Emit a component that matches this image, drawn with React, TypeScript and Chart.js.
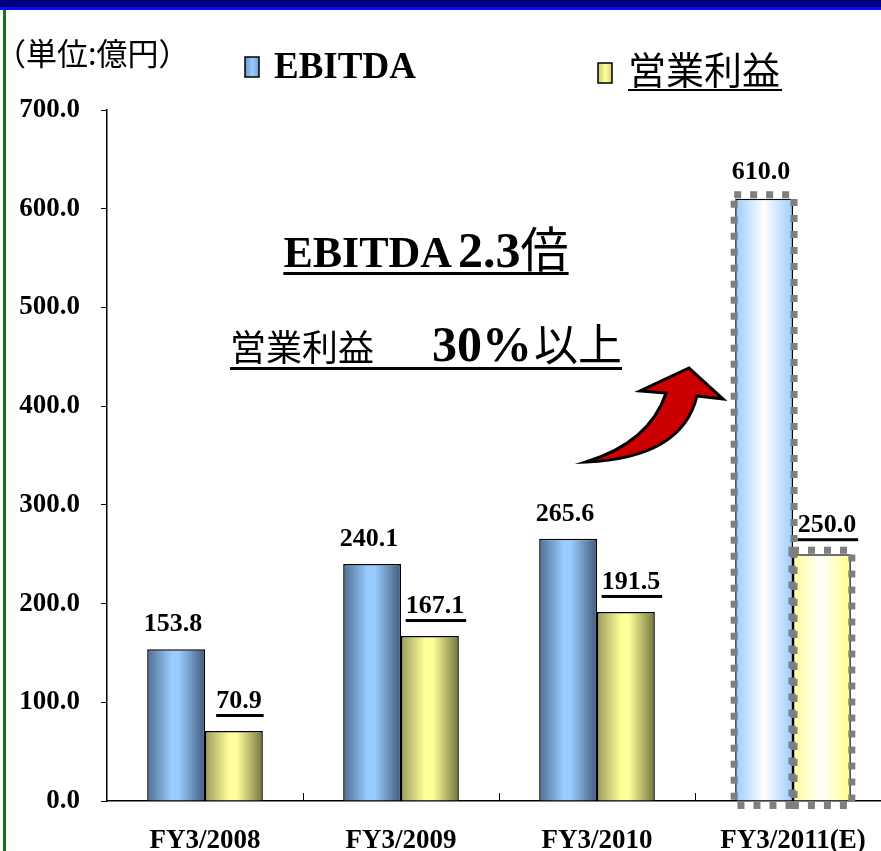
import React, { useEffect, useRef } from 'react';
import { Chart, registerables } from 'chart.js';

Chart.register(...registerables);

const categories = ['FY3/2008', 'FY3/2009', 'FY3/2010', 'FY3/2011(E)'];
const ebitda = [153.8, 240.1, 265.6, 610.0];
const operatingIncome = [70.9, 167.1, 191.5, 250.0];
const seriesNames = ['EBITDA', '営業利益'];
const yMin = 0;
const yMax = 700;
const yStep = 100;
const forecastIndex = 3;
const unitLabel = '（単位:億円）';
const headline1 = { a: 'EBITDA', b: '2.3', c: '倍' };
const headline2 = { a: '営業利益', b: '30%', c: '以上' };

const SERIF = "'Liberation Serif', 'Times New Roman', serif";
const CJK = "'Noto Sans CJK JP', sans-serif";
const CAT_PCT = 0.59;

function barGradient(ctx: any, ds: number) {
  const chart = ctx.chart;
  const xs = chart.scales && chart.scales.x;
  const i = ctx.dataIndex;
  const fallback = ds === 0 ? '#99ccff' : '#ffff99';
  if (!xs || i === undefined || !chart.chartArea) return fallback;
  const center = xs.getPixelForValue(i);
  const catW = (xs.right - xs.left) / categories.length;
  const bw = (catW * CAT_PCT) / 2;
  const left = ds === 0 ? center - bw : center;
  const g = chart.ctx.createLinearGradient(left, 0, left + bw, 0);
  if (i === forecastIndex) {
    if (ds === 0) {
      g.addColorStop(0, '#99ccff');
      g.addColorStop(0.5, '#ffffff');
      g.addColorStop(1, '#99ccff');
    } else {
      g.addColorStop(0, '#ffff99');
      g.addColorStop(0.5, '#ffffff');
      g.addColorStop(1, '#ffff88');
    }
  } else if (ds === 0) {
    g.addColorStop(0, '#4f6e92');
    g.addColorStop(0.42, '#99ccff');
    g.addColorStop(0.55, '#99ccff');
    g.addColorStop(1, '#3f5a7a');
  } else {
    g.addColorStop(0, '#9b9b5e');
    g.addColorStop(0.42, '#ffff99');
    g.addColorStop(0.55, '#ffff99');
    g.addColorStop(1, '#75753e');
  }
  return g;
}

const decorPlugin = {
  id: 'decor',
  beforeDraw(chart: any) {
    const c = chart.ctx;
    c.save();
    c.fillStyle = '#ffffff';
    c.fillRect(0, 0, chart.width, chart.height);
    c.fillStyle = '#00007e';
    c.fillRect(0, 0, chart.width, 7);
    c.fillStyle = '#0a0aff';
    c.fillRect(0, 7, chart.width, 3);
    c.fillStyle = '#127512';
    c.fillRect(3, 10, 3, chart.height - 10);
    c.restore();
  },
  afterDatasetsDraw(chart: any) {
    const c = chart.ctx;
    const xs = chart.scales.x;
    const area = chart.chartArea;
    c.save();
    // category boundary ticks on x axis (pointing up)
    c.strokeStyle = '#000';
    c.lineWidth = 1;
    const catW = (xs.right - xs.left) / categories.length;
    for (let i = 1; i < categories.length; i++) {
      const x = Math.round(xs.left + catW * i) + 0.5;
      c.beginPath();
      c.moveTo(x, area.bottom);
      c.lineTo(x, area.bottom - 8);
      c.stroke();
    }
    // dotted frames for forecast bars
    chart.data.datasets.forEach((_: any, di: number) => {
      const meta = chart.getDatasetMeta(di);
      const el = meta.data[forecastIndex];
      if (!el) return;
      const p = el.getProps(['x', 'y', 'base', 'width'], true);
      const l = p.x - p.width / 2 - 1;
      const r = p.x + p.width / 2 + 1;
      const t = p.y - 4;
      const b = p.base + 5;
      c.strokeStyle = '#7f7f7f';
      c.lineWidth = 7;
      c.setLineDash([7, 9]);
      c.beginPath();
      c.moveTo(l, t);
      c.lineTo(r, t);
      c.lineTo(r, b);
      c.lineTo(l, b);
      c.closePath();
      c.stroke();
    });
    c.setLineDash([]);
    // value labels
    chart.data.datasets.forEach((ds: any, di: number) => {
      const meta = chart.getDatasetMeta(di);
      meta.data.forEach((el: any, i: number) => {
        const p = el.getProps(['x', 'y', 'base', 'width'], true);
        const txt = Number(ds.data[i]).toFixed(1);
        c.font = `bold 26px ${SERIF}`;
        c.fillStyle = '#000';
        c.textAlign = 'center';
        c.textBaseline = 'alphabetic';
        if (di === 0) {
          const extra = i === forecastIndex ? 2 : 0;
          c.fillText(txt, p.x - 3, p.y - 18 - extra);
        } else {
          const extra = i === forecastIndex ? 0 : 1;
          const cx = p.x + 5;
          const by = p.y - 22 - extra;
          c.fillText(txt, cx, by);
          const w = c.measureText(txt).width;
          c.fillRect(cx - w / 2, by + 6, w + 2, 3);
        }
      });
    });
    c.restore();
  },
  afterDraw(chart: any) {
    const c = chart.ctx;
    c.save();
    c.fillStyle = '#000';
    c.textBaseline = 'alphabetic';
    c.textAlign = 'left';
    // unit label
    c.font = `31px ${CJK}`;
    c.textBaseline = 'middle';
    c.fillText(unitLabel, -5, 53);
    c.textBaseline = 'alphabetic';
    // legend: EBITDA
    const gb = c.createLinearGradient(245, 0, 260, 0);
    gb.addColorStop(0, '#6f99cc');
    gb.addColorStop(0.5, '#99ccff');
    gb.addColorStop(1, '#6f99cc');
    c.fillStyle = gb;
    c.fillRect(245, 57, 14, 20);
    c.strokeStyle = '#000';
    c.lineWidth = 1.5;
    c.strokeRect(245, 57, 14, 20);
    c.fillStyle = '#000';
    c.font = `bold 37px ${SERIF}`;
    c.fillText(seriesNames[0], 274, 78);
    // legend: operating income
    const gy = c.createLinearGradient(598, 0, 613, 0);
    gy.addColorStop(0, '#cccc77');
    gy.addColorStop(0.5, '#ffff99');
    gy.addColorStop(1, '#cccc77');
    c.fillStyle = gy;
    c.fillRect(598, 63, 14, 20);
    c.strokeRect(598, 63, 14, 20);
    c.fillStyle = '#000';
    c.font = `38px ${CJK}`;
    c.fillText(seriesNames[1], 628, 84);
    const lw = c.measureText(seriesNames[1]).width;
    c.fillRect(628, 89, lw + 2, 2);

    // headline 1
    const parts1 = [
      { t: headline1.a, f: `bold 44px ${SERIF}`, gap: 6 },
      { t: headline1.b, f: `bold 50px ${SERIF}`, gap: 0 },
      { t: headline1.c, f: `48px ${CJK}`, gap: 0 },
    ];
    drawLine(c, parts1, 426, 267, 272);
    // headline 2
    const parts2 = [
      { t: headline2.a, f: `36px ${CJK}`, gap: 58 },
      { t: headline2.b, f: `bold 50px ${SERIF}`, gap: 2 },
      { t: headline2.c, f: `44px ${CJK}`, gap: 0 },
    ];
    drawLine(c, parts2, 426, 361, 367);

    // red curved arrow
    c.beginPath();
    c.moveTo(586, 462);
    c.quadraticCurveTo(682, 458, 697, 396);
    c.lineTo(723, 399);
    c.lineTo(689, 368);
    c.lineTo(640, 391);
    c.lineTo(666, 393);
    c.quadraticCurveTo(650, 442, 586, 462);
    c.closePath();
    c.fillStyle = '#cc0000';
    c.fill();
    c.lineWidth = 3;
    c.lineJoin = 'miter';
    c.strokeStyle = '#000';
    c.stroke();
    c.restore();
  },
};

function drawLine(c: any, parts: any[], cx: number, baseline: number, underY: number) {
  let total = 0;
  const widths = parts.map((p) => {
    c.font = p.f;
    const w = c.measureText(p.t).width;
    total += w + p.gap;
    return w;
  });
  total -= parts[parts.length - 1].gap;
  let x = cx - total / 2;
  const start = x;
  parts.forEach((p, i) => {
    c.font = p.f;
    c.fillText(p.t, x, baseline);
    x += widths[i] + p.gap;
  });
  c.fillRect(start, underY, total, 3);
}

export default function App() {
  const ref = useRef<HTMLCanvasElement | null>(null);
  useEffect(() => {
    document.body.style.margin = '0';
    if (!ref.current) return;
    const chart = new Chart(ref.current, {
      type: 'bar',
      data: {
        labels: categories,
        datasets: [
          {
            label: seriesNames[0],
            data: ebitda,
            backgroundColor: (ctx: any) => barGradient(ctx, 0),
            borderColor: '#000',
            borderWidth: 1.5,
            categoryPercentage: CAT_PCT,
            barPercentage: 1,
          },
          {
            label: seriesNames[1],
            data: operatingIncome,
            backgroundColor: (ctx: any) => barGradient(ctx, 1),
            borderColor: '#000',
            borderWidth: 1.5,
            categoryPercentage: CAT_PCT,
            barPercentage: 1,
          },
        ],
      },
      options: {
        responsive: false,
        animation: false,
        devicePixelRatio: 1,
        layout: { padding: { top: 110, right: 9, left: 0, bottom: 0 } },
        plugins: {
          legend: { display: false },
          tooltip: { enabled: false },
          title: { display: false },
        },
        scales: {
          x: {
            grid: { display: false },
            border: { color: '#000', width: 1.5 },
            ticks: {
              color: '#000',
              font: { family: SERIF, size: 27, weight: 'bold' },
              padding: 16,
              maxRotation: 0,
              autoSkip: false,
            },
            afterFit: (s: any) => {
              s.height = 50;
            },
          },
          y: {
            min: yMin,
            max: yMax,
            ticks: {
              stepSize: yStep,
              color: '#000',
              font: { family: SERIF, size: 27, weight: 'bold' },
              padding: 21,
              callback: (v: any) => Number(v).toFixed(1),
            },
            grid: {
              drawOnChartArea: false,
              drawTicks: true,
              tickLength: 6,
              color: '#000',
              lineWidth: 1,
            },
            border: { color: '#000', width: 1.5 },
            afterFit: (s: any) => {
              s.width = 107;
            },
          },
        },
      },
      plugins: [decorPlugin],
    });
    return () => chart.destroy();
  }, []);
  return (
    <div style={{ position: 'relative', width: 881, height: 851, overflow: 'hidden' }}>
      <canvas ref={ref} width={900} height={851} style={{ display: 'block' }} />
    </div>
  );
}
